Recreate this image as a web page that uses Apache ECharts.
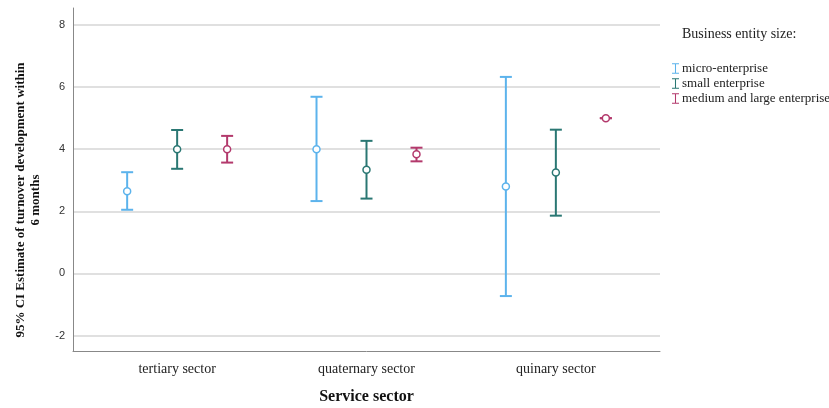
<!DOCTYPE html>
<html>
<head>
<meta charset="utf-8">
<title>95% CI turnover development</title>
<script src="https://cdn.jsdelivr.net/npm/echarts@6/dist/echarts.min.js"></script>
<style>
  html, body { margin: 0; padding: 0; background: #fff; }
  #chart { width: 829px; height: 408px; }
</style>
</head>
<body>
<div id="chart"></div>
<script>
// categories on the x axis
var sectors = ['tertiary sector', 'quaternary sector', 'quinary sector']
var groups = ['micro-enterprise', 'small enterprise', 'medium and large enterprise']
var groupColors = ['#5cb3ec', '#2a7773', '#b3396c']
var groupOffset = [-0.264, 0, 0.264]
var yTicks = [-2, 0, 2, 4, 6, 8]

// mean and 95% CI per group, one value per sector
var microMean = [2.65, 4.0, 2.8]
var microLow = [2.05, 2.33, -0.73]
var microHigh = [3.26, 5.69, 6.33]

var smallMean = [4.0, 3.34, 3.25]
var smallLow = [3.37, 2.41, 1.86]
var smallHigh = [4.62, 4.27, 4.63]

var largeMean = [4.0, 3.84, 5.0]
var largeLow = [3.57, 3.61, 5.0]
var largeHigh = [4.43, 4.05, 5.0]

var means = [microMean, smallMean, largeMean]
var lows = [microLow, smallLow, largeLow]
var highs = [microHigh, smallHigh, largeHigh]

var serif = 'Liberation Serif'
var chart = echarts.init(document.getElementById('chart'))

function renderErrorBar(params, api) {
  var x = api.value(0)
  var lo = api.coord([x, api.value(1)])
  var hi = api.coord([x, api.value(2)])
  var mid = api.coord([x, api.value(3)])
  var color = api.visual('color')
  var cap = 6
  var lineStyle = { stroke: color, lineWidth: 2 }
  return {
    type: 'group',
    children: [
      { type: 'line', shape: { x1: hi[0], y1: hi[1], x2: lo[0], y2: lo[1] }, style: lineStyle },
      { type: 'line', shape: { x1: hi[0] - cap, y1: hi[1], x2: hi[0] + cap, y2: hi[1] }, style: lineStyle },
      { type: 'line', shape: { x1: lo[0] - cap, y1: lo[1], x2: lo[0] + cap, y2: lo[1] }, style: lineStyle },
      { type: 'circle', shape: { cx: mid[0], cy: mid[1], r: 3.5 }, style: { fill: '#fff', stroke: color, lineWidth: 1.5 } }
    ]
  }
}

var series = []
for (var g = 0; g < groups.length; g++) {
  var data = []
  for (var s = 0; s < sectors.length; s++) {
    data.push([s + groupOffset[g], lows[g][s], highs[g][s], means[g][s]])
  }
  series.push({
    name: groups[g],
    type: 'custom',
    renderItem: renderErrorBar,
    itemStyle: { color: groupColors[g] },
    encode: { x: 0, y: [1, 2, 3] },
    data: data,
    animation: false
  })
}

chart.setOption({
  backgroundColor: '#fff',
  animation: false,
  title: {
    text: 'Business entity size:',
    left: 677,
    top: 22,
    textStyle: { fontFamily: serif, fontSize: 14, fontWeight: 'normal', color: '#222' }
  },
  legend: {
    orient: 'vertical',
    left: 667,
    top: 57,
    itemGap: 2,
    itemWidth: 7,
    itemHeight: 11,
    icon: 'path://M0,0H8V1.2H4.6V10.8H8V12H0V10.8H3.4V1.2H0Z',
    data: groups,
    textStyle: { fontFamily: serif, fontSize: 13, color: '#222', padding: [0, 0, 0, -2] }
  },
  grid: { left: 73, right: 169, top: 8, bottom: 57, outerBoundsMode: 'none' },
  xAxis: {
    type: 'value',
    min: -0.55,
    max: 2.55,
    axisLine: { onZero: false, lineStyle: { color: '#888', width: 1 } },
    axisTick: { show: false, customValues: [0, 1, 2] },
    splitLine: { show: false },
    axisLabel: {
      customValues: [0, 1, 2],
      margin: 11,
      fontFamily: serif,
      fontSize: 14,
      color: '#222',
      formatter: function (v) { return sectors[Math.round(v)] }
    },
    name: 'Service sector',
    nameLocation: 'middle',
    nameGap: 38,
    nameTextStyle: { fontFamily: serif, fontSize: 16, fontWeight: 'bold', color: '#111' }
  },
  yAxis: {
    type: 'value',
    min: -2.5,
    max: 8.55,
    axisLine: { show: true, onZero: false, lineStyle: { color: '#888', width: 1 } },
    axisTick: { show: false, customValues: yTicks },
    axisLabel: {
      customValues: yTicks,
      margin: 8,
      fontFamily: 'Liberation Sans',
      fontSize: 11,
      color: '#333'
    },
    splitLine: { show: true, lineStyle: { color: '#d6d6d6', width: 1.5 } }
  },
  graphic: [{
    type: 'text',
    x: 28,
    y: 200,
    rotation: Math.PI / 2,
    style: {
      text: '95% CI Estimate of turnover development within\n6 months',
      fontFamily: serif,
      fontSize: 13,
      fontWeight: 'bold',
      fill: '#111',
      align: 'center',
      verticalAlign: 'middle',
      lineHeight: 15
    }
  }],
  series: series
})
</script>
</body>
</html>
